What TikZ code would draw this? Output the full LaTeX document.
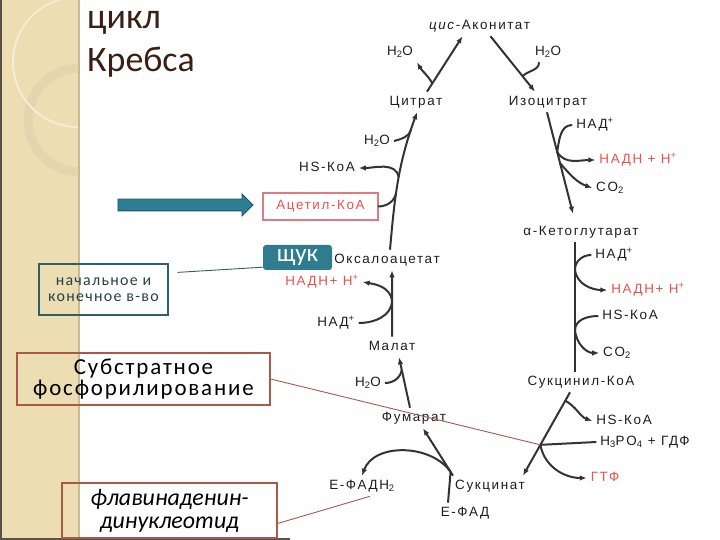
\documentclass[tikz,border=0pt]{standalone}
\usepackage{fontspec}
\setmainfont{Carlito}
\newfontfamily\chemfont[LetterSpace=12]{Liberation Sans}
\newfontfamily\notefont[LetterSpace=8]{Carlito}
\usetikzlibrary{arrows.meta,positioning,shapes.arrows}

\definecolor{stripbeige}{HTML}{ECDDB2}
\definecolor{stripedge}{HTML}{CBB994}
\definecolor{ringtan}{HTML}{E3D5AF}
\definecolor{arcwhite}{HTML}{F4ECD4}
\definecolor{framegray}{HTML}{5A5248}
\definecolor{titlebrown}{HTML}{3B1E14}
\definecolor{chemgray}{HTML}{1E1E1E}
\definecolor{linegray}{HTML}{333333}
\definecolor{nadhred}{HTML}{E5534B}
\definecolor{acetylpink}{HTML}{DE7A80}
\definecolor{tealbox}{HTML}{2E7C8E}
\definecolor{tealdark}{HTML}{2F5F6A}
\definecolor{tealtext}{HTML}{23414B}
\definecolor{brickline}{HTML}{A9584A}
\definecolor{arrowteal}{HTML}{2E7E93}
\definecolor{arrowedge}{HTML}{1E5566}

\begin{document}
\begin{tikzpicture}[
    x=1bp, y=1bp,
    chem/.style={font=\chemfont\fontsize{13.5}{15}\selectfont, text=chemgray, inner sep=1bp, outer sep=3bp, text height=9.8bp, text depth=2.8bp},
    redchem/.style={chem, text=nadhred},
    arr/.style={-{Latex[length=7bp,width=5.5bp]}, line width=2bp, draw=linegray},
    feed/.style={line width=2bp, draw=linegray},
    notebox/.style={draw, line width=1.2bp, align=center, inner sep=0pt},
    link/.style={line width=0.9bp},
    bigarrow/.style={single arrow, draw=arrowedge, fill=arrowteal, line width=0.8bp, minimum height=135bp, inner xsep=0pt, inner ysep=5.5bp, single arrow head extend=5bp}
  ]
    \useasboundingbox (0,0) rectangle (720,540);

    % slide strip on the left
    \fill[stripbeige] (0,0) rectangle (79,540);
    \begin{scope}
      \clip (0,0) rectangle (79,540);
      \draw[ringtan, line width=9bp] (80,420) circle[radius=52];
      \draw[arcwhite, line width=2bp] (78,478) circle[radius=65];
    \end{scope}
    \draw[stripedge, line width=1.2bp] (79,0) -- (79,540);
    \draw[framegray, line width=1.5bp] (0.75,0) -- (0.75,540);
    \draw[framegray, line width=1.5bp] (0,0.75) -- (290,0.75);

    % title
    \node[anchor=base west, inner sep=0pt, font=\fontsize{36}{40}\selectfont, text=titlebrown] (title1) at (87,511) {цикл};
    \node[anchor=base west, inner sep=0pt, font=\fontsize{36}{40}\selectfont, text=titlebrown] (title2) at (87,468) {Кребса};

    % cycle
    \node[chem] (cisacon) at (479.5,514) {\textit{цис}-Аконитат};
    \node[chem] (h2oA) at (400,488) {H\textsubscript{2}O};
    \node[chem] (h2oB) at (548,488) {H\textsubscript{2}O};
    \node[chem] (citrate) at (416,438) {Цитрат};
    \node[chem] (isocit) at (548,438) {Изоцитрат};
    \node[chem] (h2oC) at (377,399) {H\textsubscript{2}O};
    \node[chem] (hskoaA) at (327,372) {HS-КоА};
    \node[redchem, draw=acetylpink, line width=1.5bp, minimum width=115bp, minimum height=27bp, outer sep=0pt] (acetyl) at (320.5,333.5) {Ацетил-КоА};
    \node[chem] (nadA) at (595,415) {НАД\textsuperscript{+}};
    \node[redchem] (nadhA) at (638,380) {НАДН + Н\textsuperscript{+}};
    \node[chem] (co2A) at (610,352) {CO\textsubscript{2}};
    \node[chem] (akg) at (581,308) {α-Кетоглутарат};
    \node[chem] (oxalo) at (387,280) {Оксалоацетат};
    \node[redchem] (nadhB) at (322,258) {НАДН+ Н\textsuperscript{+}};
    \node[chem] (nadB) at (336,217) {НАД\textsuperscript{+}};
    \node[chem] (malate) at (392,193) {Малат};
    \node[chem] (h2oD) at (368,157) {H\textsubscript{2}O};
    \node[chem] (fumarate) at (414,122) {Фумарат};
    \node[chem] (nadC) at (614,285) {НАД\textsuperscript{+}};
    \node[redchem] (nadhC) at (648,250) {НАДН+ Н\textsuperscript{+}};
    \node[chem] (hskoaB) at (630,224) {HS-КоА};
    \node[chem] (co2B) at (617,187) {CO\textsubscript{2}};
    \node[chem] (succoa) at (581,158) {Сукцинил-КоА};
    \node[chem] (hskoaC) at (624,119) {HS-КоА};
    \node[chem] (pi) at (645,98) {H\textsubscript{3}PO\textsubscript{4} + ГДФ};
    \node[redchem] (gtp) at (605,62) {ГТФ};
    \node[chem] (succinate) at (490,54) {Сукцинат};
    \node[chem] (fadh) at (362,54) {Е-ФАДН\textsubscript{2}};
    \node[chem] (fad) at (465,27) {Е-ФАД};

    % notes
    \node[fill=tealbox, rounded corners=3bp, minimum width=69bp, minimum height=25bp, inner sep=0pt, text=white, font=\fontsize{25}{27}\selectfont] (shchuk) at (297.5,282.5) {\raisebox{-3bp}{щук}};
    \node[notebox, draw=tealdark, text=tealtext, minimum width=129bp, minimum height=51bp, font=\notefont\fontsize{16}{16}\selectfont] (startbox) at (103.5,250.5) {начальное и\\конечное в-во};
    \node[notebox, draw=brickline, text=black, minimum width=253bp, minimum height=52bp, font=\notefont\fontsize{23}{21}\selectfont] (substbox) at (143.5,161) {Субстратное\\фосфорилирование};
    \node[notebox, draw=brickline, text=black, minimum width=215bp, minimum height=55bp, font=\fontsize{24}{23}\selectfont\itshape] (fadbox) at (169.5,29.5) {флавинаденин-\\динуклеотид};
    \node[bigarrow] (pointer) at (182.5,335) {};

    % citrate -> cis-aconitate -> isocitrate
    \draw[arr] ([xshift=11bp]citrate.north) -- coordinate[pos=0.15] (jA) ([xshift=-17bp]cisacon.south);
    \draw[arr] (jA) to[out=120,in=-60] (h2oA.south east);
    \draw[arr] ([xshift=11bp]cisacon.south) -- coordinate[pos=0.72] (jB) ([xshift=-13bp]isocit.north);
    \draw[feed] ([xshift=-9bp]h2oB.south) to[out=-90,in=45] (jB);

    % oxaloacetate -> citrate
    \draw[arr] ([xshift=3bp]oxalo.north) to[out=85,in=-110]
      coordinate[pos=0.4] (jAc) coordinate[pos=0.52] (jHs) coordinate[pos=0.88] (jW)
      ([xshift=1bp]citrate.south);
    \draw[feed] (acetyl.east) to[out=0,in=-100] (jAc);
    \draw[arr] (jHs) to[out=100,in=0] (hskoaA.east);
    \draw[feed] (h2oC.east) to[out=15,in=-110] (jW);

    % isocitrate -> alpha-ketoglutarate
    \draw[arr] ([xshift=-1bp]isocit.south) -- coordinate[pos=0.39] (jN1) coordinate[pos=0.5] (jN2) ([shift={(-8bp,8bp)}]akg.north);
    \draw[feed] (nadA.west) to[out=180,in=80] (jN1);
    \draw[arr] (jN1) to[out=-60,in=180] (nadhA.west);
    \draw[arr] (jN2) to[out=-50,in=160] (co2A.west);

    % alpha-ketoglutarate -> succinyl-CoA
    \draw[feed] ([xshift=-6bp]akg.south) -- coordinate[pos=0.21] (jK1) coordinate[pos=0.68] (jK2) ([xshift=-6bp]succoa.north);
    \draw[feed] (nadC.west) to[out=180,in=90] (jK1);
    \draw[arr] (jK1) to[out=-85,in=180] (nadhC.west);
    \draw[feed] (hskoaB.west) to[out=180,in=90] (jK2);
    \draw[arr] (jK2) to[out=-85,in=180] (co2B.west);

    % succinyl-CoA -> succinate
    \draw[arr] ([xshift=-11bp]succoa.south) -- coordinate[pos=0.1] (jS1) coordinate[pos=0.63] (jS2) ([xshift=33bp]succinate.north);
    \draw[arr] (jS1) to[out=-30,in=160] (hskoaC.west);
    \draw[feed] (pi.west) -- (jS2);
    \draw[arr] (jS2) to[out=-80,in=180] (gtp.west);

    % succinate -> fumarate
    \draw[arr] ([xshift=-37bp]succinate.north) -- coordinate[pos=0.08] (jF) ([xshift=9bp]fumarate.south);
    \draw[feed] ([xshift=-17bp]fad.north) -- (jF);
    \draw[arr] (jF) to[out=125,in=70] (fadh.north);

    % fumarate -> malate -> oxaloacetate
    \draw[arr] ([xshift=-4bp]fumarate.north) -- coordinate[pos=0.75] (jM) ([xshift=7bp]malate.south);
    \draw[feed] (h2oD.east) to[out=0,in=-100] (jM);
    \draw[arr] (malate.north) -- coordinate[pos=0.55] (jO) ([xshift=5bp]oxalo.south);
    \draw[feed] (nadB.east) to[out=0,in=-90] (jO);
    \draw[arr] (jO) to[out=100,in=-10] (nadhB.east);

    % notes to the cycle
    \draw[link, tealdark] ([shift={(9bp,-9bp)}]startbox.north east) -- ([yshift=3bp]shchuk.south west);
    \draw[link, brickline] (substbox.east) -- (jS2);
    \draw[link, brickline] ([yshift=-13bp]fadbox.east) -- ([xshift=8bp]fadh.south);
  \end{tikzpicture}
\end{document}
